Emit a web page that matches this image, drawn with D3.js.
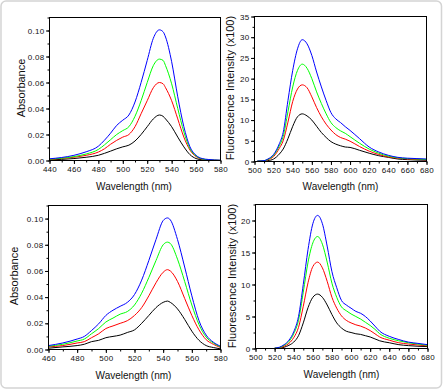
<!DOCTYPE html>
<html>
<head>
<meta charset="utf-8">
<script src="https://cdn.jsdelivr.net/npm/d3@7"></script>
<style>
  body { margin: 0; background: #fff; }
  svg { display: block; font-family: "Liberation Sans", Arial, sans-serif; }
</style>
</head>
<body>
<svg id="chart" width="444" height="391"></svg>
<script>
// ---- data ----
// top-left: absorbance
const absAWl    = [440, 460, 470, 480, 485, 490, 495, 500, 505, 510, 515, 520, 525, 530, 533, 535, 540, 545, 550, 555, 560, 565, 570, 575, 580];
const absABlue  = [0.0013, 0.004, 0.0067, 0.011, 0.0156, 0.021, 0.027, 0.031, 0.035, 0.045, 0.060, 0.077, 0.094, 0.1005, 0.099, 0.095, 0.076, 0.049, 0.026, 0.0105, 0.004, 0.0015, 0.0008, 0.0004, 0.0002];
const absAGreen = [0.001, 0.003, 0.005, 0.0085, 0.012, 0.016, 0.020, 0.023, 0.026, 0.034, 0.046, 0.060, 0.073, 0.078, 0.077, 0.073, 0.059, 0.040, 0.022, 0.009, 0.0035, 0.0012, 0.0005, 0.0003, 0.0001];
const absARed   = [0.0008, 0.0025, 0.004, 0.0065, 0.009, 0.0125, 0.0155, 0.018, 0.020, 0.026, 0.036, 0.046, 0.056, 0.060, 0.059, 0.056, 0.046, 0.032, 0.018, 0.008, 0.003, 0.001, 0.0004, 0.0002, 0.0001];
const absABlack = [0.0005, 0.0015, 0.0025, 0.004, 0.0055, 0.0072, 0.009, 0.0105, 0.0118, 0.015, 0.020, 0.026, 0.032, 0.035, 0.034, 0.032, 0.026, 0.018, 0.0105, 0.0045, 0.0015, 0.0005, 0.0002, 0.0001, 0.0];

// top-right: fluorescence (x100)
const flAWl    = [503, 510, 514, 520, 526, 530, 535, 540, 545, 550, 555, 560, 565, 570, 575, 580, 585, 590, 595, 600, 610, 620, 630, 640, 650, 660, 670, 680];
const flABlue  = [0.1, 0.2, 0.6, 1.7, 4.3, 7.0, 14.7, 22.0, 27.2, 29.4, 28.4, 25.6, 21.6, 18.0, 14.7, 11.8, 10.3, 9.4, 8.4, 7.5, 5.5, 3.5, 2.3, 1.5, 1.0, 0.8, 0.7, 0.6];
const flAGreen = [0.1, 0.2, 0.5, 1.5, 3.8, 6.0, 12.0, 18.0, 22.0, 23.5, 22.5, 20.0, 16.8, 14.0, 11.5, 9.4, 8.2, 7.4, 6.8, 6.0, 4.4, 3.0, 2.0, 1.3, 0.9, 0.7, 0.6, 0.5];
const flARed   = [0.1, 0.15, 0.4, 1.2, 3.2, 5.0, 9.5, 14.5, 17.5, 18.5, 17.8, 15.6, 13.0, 10.8, 9.0, 7.6, 6.5, 5.8, 5.4, 4.9, 3.6, 2.5, 1.7, 1.1, 0.8, 0.6, 0.5, 0.4];
const flABlack = [0.05, 0.1, 0.2, 0.6, 1.8, 3.0, 5.5, 8.5, 10.8, 11.5, 11.0, 10.0, 8.5, 7.0, 5.8, 4.8, 4.2, 3.8, 3.5, 3.4, 2.7, 2.0, 1.4, 1.0, 0.6, 0.45, 0.35, 0.3];

// bottom-left: absorbance
const absBWl    = [460, 470, 480, 485, 490, 495, 500, 505, 510, 515, 520, 525, 530, 535, 540, 543, 545, 550, 555, 560, 565, 570, 575, 580];
const absBBlue  = [0.003, 0.005, 0.008, 0.010, 0.0145, 0.0196, 0.026, 0.030, 0.033, 0.036, 0.042, 0.053, 0.068, 0.084, 0.0985, 0.1005, 0.099, 0.084, 0.063, 0.041, 0.022, 0.011, 0.0056, 0.0025];
const absBGreen = [0.0025, 0.004, 0.0065, 0.008, 0.012, 0.016, 0.021, 0.024, 0.027, 0.029, 0.034, 0.043, 0.055, 0.068, 0.080, 0.082, 0.081, 0.069, 0.052, 0.034, 0.019, 0.0095, 0.005, 0.002];
const absBRed   = [0.002, 0.003, 0.005, 0.006, 0.009, 0.012, 0.016, 0.018, 0.020, 0.022, 0.026, 0.032, 0.041, 0.051, 0.059, 0.061, 0.060, 0.052, 0.039, 0.026, 0.015, 0.0075, 0.004, 0.0015];
const absBBlack = [0.001, 0.002, 0.003, 0.004, 0.006, 0.007, 0.009, 0.010, 0.011, 0.013, 0.015, 0.020, 0.026, 0.032, 0.036, 0.037, 0.036, 0.031, 0.023, 0.014, 0.007, 0.003, 0.0015, 0.0005];

// bottom-right: fluorescence (x100)
const flBWl    = [520, 525, 530, 535, 540, 545, 550, 555, 560, 565, 570, 575, 580, 585, 590, 595, 600, 605, 610, 615, 620, 625, 630, 640, 650, 660, 670, 680];
const flBBlue  = [0.05, 0.2, 0.6, 1.3, 2.6, 5.0, 10.0, 15.5, 19.5, 20.8, 19.5, 16.0, 12.0, 9.5, 7.5, 6.8, 6.3, 5.8, 5.5, 5.0, 4.3, 3.5, 2.7, 1.9, 1.4, 1.0, 0.8, 0.6];
const flBGreen = [0.05, 0.15, 0.5, 1.1, 2.3, 4.4, 8.8, 13.5, 16.5, 17.5, 16.3, 13.5, 10.2, 8.0, 6.5, 5.9, 5.4, 5.0, 4.6, 4.1, 3.6, 3.0, 2.3, 1.6, 1.2, 0.9, 0.7, 0.5];
const flBRed   = [0.03, 0.1, 0.35, 0.8, 1.7, 3.3, 6.6, 10.3, 12.8, 13.5, 12.6, 10.5, 8.0, 6.3, 5.1, 4.4, 4.0, 3.7, 3.5, 3.2, 2.8, 2.3, 1.8, 1.3, 0.9, 0.7, 0.55, 0.4];
const flBBlack = [0.02, 0.05, 0.2, 0.5, 1.0, 2.0, 4.0, 6.4, 8.0, 8.5, 8.0, 6.8, 5.3, 4.0, 3.2, 2.7, 2.5, 2.3, 2.2, 2.0, 1.8, 1.5, 1.2, 0.9, 0.6, 0.45, 0.35, 0.3];

const seriesColors = ["#000000", "#ff0000", "#00ff00", "#0000ff"];

const svg = d3.select("#chart");

// outer rounded frame
svg.append("rect")
    .attr("x", 1).attr("y", 1)
    .attr("width", 440.5).attr("height", 387)
    .attr("rx", 5)
    .attr("fill", "#fff")
    .attr("stroke", "#d4d4d4")
    .attr("stroke-width", 1.5);

function plot_panel(p){
    const g = svg.append("g");
    const x = d3.scaleLinear().domain(p.xDomain).range([p.left, p.right]);
    const y = d3.scaleLinear().domain(p.yDomain).range([p.bottom, p.top]);

    // minor ticks
    const xMinor = d3.range(p.xDomain[0], p.xDomain[1] + 0.001, p.xStep / 2);
    const yMinor = d3.range(p.yDomain[0], p.yDomain[1] + 1e-9, p.yStep / 2);
    g.append("g").attr("transform", "translate(0," + p.bottom + ")")
        .call(d3.axisBottom(x).tickValues(xMinor).tickSize(2).tickFormat(""))
        .call(a => a.select(".domain").remove());
    g.append("g").attr("transform", "translate(" + p.left + ",0)")
        .call(d3.axisLeft(y).tickValues(yMinor).tickSize(2).tickFormat(""))
        .call(a => a.select(".domain").remove());

    // major ticks + labels
    const xMajor = d3.range(p.xDomain[0], p.xDomain[1] + 0.001, p.xStep);
    const yMajor = d3.range(p.yDomain[0], p.yMax + 1e-9, p.yStep);
    g.append("g").attr("transform", "translate(0," + p.bottom + ")")
        .call(d3.axisBottom(x).tickValues(xMajor).tickSize(3.5).tickPadding(2.5).tickFormat(d3.format("d")))
        .call(a => a.select(".domain").remove())
        .call(a => a.selectAll("text").attr("font-size", "8px").attr("fill", "#111")
            .attr("font-family", "Liberation Sans, Arial, sans-serif").attr("letter-spacing", "0.3px"));
    g.append("g").attr("transform", "translate(" + p.left + ",0)")
        .call(d3.axisLeft(y).tickValues(yMajor).tickSize(3.5).tickPadding(1.5).tickFormat(p.yFormat))
        .call(a => a.select(".domain").remove())
        .call(a => a.selectAll("text").attr("font-size", "8px").attr("fill", "#111")
            .attr("font-family", "Liberation Sans, Arial, sans-serif").attr("letter-spacing", "0.3px"));

    // curves
    const line = d3.line()
        .x(d => x(d[0]))
        .y(d => y(d[1]))
        .curve(d3.curveMonotoneX);
    p.series.forEach((vals, i) => {
        const pts = p.wl.map((w, k) => [w, vals[k]]);
        g.append("path")
            .attr("d", line(pts))
            .attr("fill", "none")
            .attr("stroke", seriesColors[i])
            .attr("stroke-width", 1);
    });

    // frame
    g.append("rect")
        .attr("x", p.left).attr("y", p.top)
        .attr("width", p.right - p.left).attr("height", p.bottom - p.top)
        .attr("fill", "none").attr("stroke", "#000").attr("stroke-width", 1);

    // axis titles
    g.append("text")
        .attr("x", (p.left + p.right) / 2 + p.xtDx)
        .attr("y", p.xtY)
        .attr("text-anchor", "middle")
        .attr("font-size", "10px")
        .attr("fill", "#111")
        .text("Wavelength (nm)");
    g.append("text")
        .attr("transform", "translate(" + p.ytX + "," + p.ytY + ") rotate(-90)")
        .attr("text-anchor", "middle")
        .attr("font-size", p.ytSize)
        .attr("fill", "#111")
        .text(p.yTitle);
}

plot_panel({
    left: 49.5, right: 220.5, top: 17.5, bottom: 160.5,
    xDomain: [440, 580], xStep: 20,
    yDomain: [0, 0.11], yMax: 0.1, yStep: 0.02, yFormat: d3.format(".2f"),
    wl: absAWl, series: [absABlack, absARed, absAGreen, absABlue],
    xtDx: -1, xtY: 190, ytX: 25, ytY: 88, ytSize: "11px", yTitle: "Absorbance"
});

plot_panel({
    left: 254.5, right: 426.5, top: 16.5, bottom: 161.5,
    xDomain: [500, 680], xStep: 20,
    yDomain: [0, 35], yMax: 35, yStep: 5, yFormat: d3.format("d"),
    wl: flAWl, series: [flABlack, flARed, flAGreen, flABlue],
    xtDx: 0, xtY: 190, ytX: 234, ytY: 88, ytSize: "11px", yTitle: "Fluorescence Intensity (x100)"
});

plot_panel({
    left: 48.5, right: 220.5, top: 205.5, bottom: 349.5,
    xDomain: [460, 580], xStep: 20,
    yDomain: [0, 0.11], yMax: 0.1, yStep: 0.02, yFormat: d3.format(".2f"),
    wl: absBWl, series: [absBBlack, absBRed, absBGreen, absBBlue],
    xtDx: -1, xtY: 379, ytX: 17.5, ytY: 276, ytSize: "11px", yTitle: "Absorbance"
});

plot_panel({
    left: 255.5, right: 427.5, top: 204.5, bottom: 348.5,
    xDomain: [500, 680], xStep: 20,
    yDomain: [0, 22.5], yMax: 20, yStep: 5, yFormat: d3.format("d"),
    wl: flBWl, series: [flBBlack, flBRed, flBGreen, flBBlue],
    xtDx: 0, xtY: 378, ytX: 235.5, ytY: 276, ytSize: "11px", yTitle: "Fluorescence Intensity (x100)"
});
</script>
</body>
</html>
